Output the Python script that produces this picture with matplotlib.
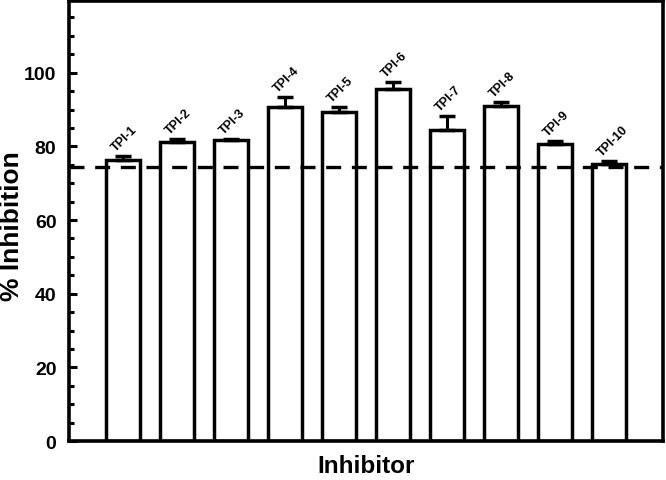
import matplotlib
matplotlib.use("Agg")
import matplotlib.pyplot as plt
from matplotlib.ticker import MultipleLocator

plt.rcParams['font.family'] = ['Liberation Sans', 'DejaVu Sans']

labels = ["TPI-1", "TPI-2", "TPI-3", "TPI-4", "TPI-5", "TPI-6", "TPI-7", "TPI-8", "TPI-9", "TPI-10"]
values = [76.3, 81.1, 81.7, 90.8, 89.3, 95.7, 84.5, 91.1, 80.6, 75.2]
errors = [1.0, 0.9, 0.3, 2.6, 1.3, 1.9, 3.7, 1.0, 1.0, 0.8]
reference_level = 74.3

fig = plt.figure(figsize=(6.66, 4.81), dpi=100)
ax = fig.add_axes([0.1036, 0.081, 0.892, 0.915])

x = list(range(1, len(values) + 1))
ax.bar(x, values, width=0.62, color='white', edgecolor='black', linewidth=2.5, zorder=2)
ax.errorbar(x, values, yerr=[[0] * len(errors), errors], fmt='none', ecolor='black',
            elinewidth=2.2, capsize=6, capthick=2.5, zorder=3)
ax.axhline(reference_level, color='black', linestyle=(0, (4.5, 3.2)), linewidth=2.4, zorder=4)

for xi, v, e, lab in zip(x, values, errors, labels):
    ax.annotate(lab, (xi, v + e), xytext=(-3.5, 2), textcoords='offset points',
                rotation=45, ha='left', va='bottom', fontsize=9, fontweight='bold',
                rotation_mode='anchor')

ax.set_xlim(0, 11)
ax.set_ylim(0, 119.5)
ax.set_xticks([])
ax.yaxis.set_major_locator(MultipleLocator(20))
ax.yaxis.set_minor_locator(MultipleLocator(5))
ax.tick_params(axis='y', which='major', direction='in', length=6, width=2.2,
               labelsize=14, pad=9, right=False)
ax.tick_params(axis='y', which='minor', direction='in', length=3.5, width=2.2, right=False)
for lbl in ax.get_yticklabels():
    lbl.set_fontweight('bold')
for s in ax.spines.values():
    s.set_linewidth(2.6)

fig.text(12 / 666, 1 - 226 / 481, '% Inhibition', rotation=90, ha='center', va='center',
         fontsize=19, fontweight='bold')
ax.set_xlabel('Inhibitor', fontsize=17.5, fontweight='bold', labelpad=9)

fig.savefig('out.png', dpi=100)
